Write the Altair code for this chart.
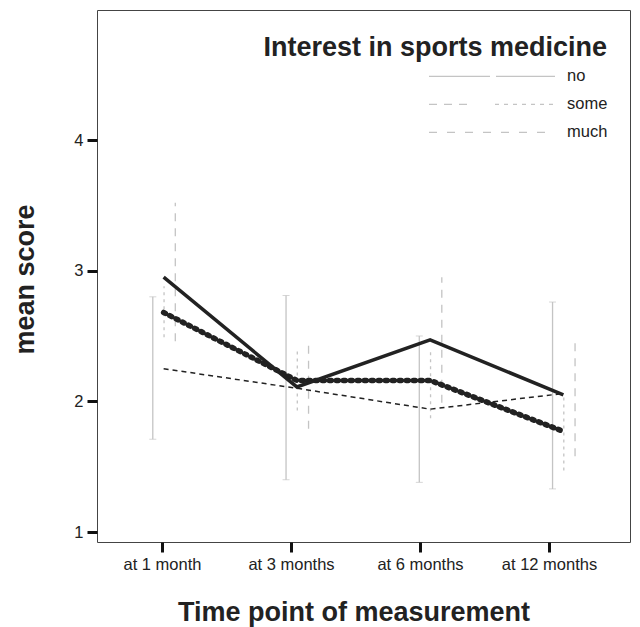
import altair as alt
import pandas as pd

# ---- data ----
times = ["at 1 month", "at 3 months", "at 6 months", "at 12 months"]
groups = ["no", "some", "much"]

mean_no = [2.25, 2.10, 1.94, 2.06]
mean_some = [2.68, 2.16, 2.16, 1.77]
mean_much = [2.95, 2.11, 2.47, 2.05]

low_no = [1.71, 1.40, 1.38, 1.33]
high_no = [2.80, 2.81, 2.50, 2.76]
low_some = [2.49, 1.93, 1.87, 1.47]
high_some = [2.88, 2.39, 2.39, 2.06]
low_much = [2.46, 1.79, 1.99, 1.58]
high_much = [3.52, 2.44, 2.95, 2.48]

y_ticks = [1, 2, 3, 4]

rows = []
for g, m, lo, hi in [("no", mean_no, low_no, high_no),
                     ("some", mean_some, low_some, high_some),
                     ("much", mean_much, low_much, high_much)]:
    for t, mv, l, h in zip(times, m, lo, hi):
        rows.append({"time": t, "group": g, "mean": mv, "low": l, "high": h})
df = pd.DataFrame(rows)
df_times = pd.DataFrame({"time": times})

FONT = "Liberation Sans"
INK = "#222222"
TICK = "#111111"
BAR = "#c4c4c4"

xband = alt.Scale(type="band", domain=times, paddingInner=0, paddingOuter=0)
yscale = alt.Scale(domain=[0.9235, 4.995], nice=False, zero=False)
xoff = alt.XOffset("group:N", sort=groups,
                   scale=alt.Scale(type="point", domain=groups, range=[55.8, 78.3], padding=0))
X = alt.X("time:N", sort=times, scale=xband, axis=None)

yaxis = alt.Axis(title="mean score", values=y_ticks, grid=False, domain=False,
                 tickSize=10, tickWidth=3, tickColor=TICK,
                 labelFontSize=16.5, labelFont=FONT, labelColor=INK, labelPadding=4,
                 titleFontSize=27, titleFont=FONT, titleFontWeight="bold", titleColor=INK,
                 titleX=-64, titleY=269, titleBaseline="alphabetic")


def Y(field):
    return alt.Y(field, scale=yscale, axis=yaxis)


bar_dash = {"no": [1, 0], "some": [3, 4], "much": [8, 7]}
legend_dash = [
    [61, 6, 59, 30],
    [8, 7, 8, 7, 8, 28, 4, 5, 4, 5, 4, 5, 4, 5, 4, 5, 4, 5, 4, 30],
    [8, 10],
]

base = alt.Chart(df)

bar_layers = []
for g in groups:
    bar_layers.append(
        base.transform_filter(alt.datum.group == g)
        .mark_rule(color=BAR, strokeWidth=1.3, strokeDash=bar_dash[g])
        .encode(x=X, xOffset=xoff, y=Y("low:Q"), y2="high:Q")
    )

caps_lo = base.transform_filter(alt.datum.group == "no").mark_tick(
    orient="horizontal", size=7, thickness=1, color=BAR
).encode(x=X, xOffset=xoff, y=Y("low:Q"))

caps_hi = base.transform_filter(alt.datum.group == "no").mark_tick(
    orient="horizontal", size=7, thickness=1, color=BAR
).encode(x=X, xOffset=xoff, y=Y("high:Q"))

# legend carrier (draws nothing; legend entries come from the scale domain)
legend_layer = base.transform_filter("false").mark_rule(color=BAR, strokeWidth=1.2).encode(
    x=X, xOffset=xoff,
    y=Y("low:Q"), y2="high:Q",
    strokeDash=alt.StrokeDash(
        "group:N", sort=groups,
        scale=alt.Scale(domain=groups, range=legend_dash),
        legend=alt.Legend(
            title="Interest in sports medicine", orient="none", legendX=166, legendY=25.4,
            titleFontSize=27, titleFont=FONT, titleFontWeight="bold", titleColor=INK,
            titleAnchor="end", titlePadding=0, titleLimit=500,
            symbolType="stroke", symbolSize=15876, symbolStrokeWidth=1.2, symbolStrokeColor=BAR,
            labelFontSize=16.5, labelFont=FONT, labelColor=INK, labelOffset=11,
            clipHeight=28, rowPadding=0, padding=0,
        ),
    ),
)

line_no = base.transform_filter(alt.datum.group == "no").mark_line(
    color=INK, strokeWidth=1.5, strokeDash=[5, 4]
).encode(x=X, y=Y("mean:Q"))

line_some = base.transform_filter(alt.datum.group == "some").mark_line(
    color=INK, strokeWidth=5.5, strokeDash=[2, 5], strokeCap="round"
).encode(x=X, y=Y("mean:Q"))

line_much = base.transform_filter(alt.datum.group == "much").mark_line(
    color=INK, strokeWidth=3.5
).encode(x=X, y=Y("mean:Q"))

axis_layer = alt.Chart(df_times).mark_point(opacity=0).encode(
    x=alt.X("time:N", sort=times,
            scale=alt.Scale(type="point", domain=times, range=[65, 452], padding=0),
            axis=alt.Axis(title="Time point of measurement", labelAngle=0, grid=False, domain=False,
                          tickSize=10, tickWidth=3, tickColor=TICK,
                          labelFontSize=16.5, labelFont=FONT, labelColor=INK, labelPadding=4,
                          titleFontSize=27, titleFont=FONT, titleFontWeight="bold", titleColor=INK,
                          titleX=256.5, titleY=78.5, titleBaseline="alphabetic")),
)

data_layers = alt.layer(*bar_layers, caps_lo, caps_hi, legend_layer,
                        line_no, line_some, line_much)

chart = (
    alt.layer(data_layers, axis_layer)
    .resolve_scale(x="independent")
    .properties(width=533, height=532,
                padding={"left": 89, "top": 2, "right": 2, "bottom": 85},
                autosize=alt.AutoSizeParams(type="none"),
                background="white")
    .configure_view(stroke="#444444", strokeWidth=1)
)

chart.save("out.html", embed_options={"renderer": "svg", "actions": False})
